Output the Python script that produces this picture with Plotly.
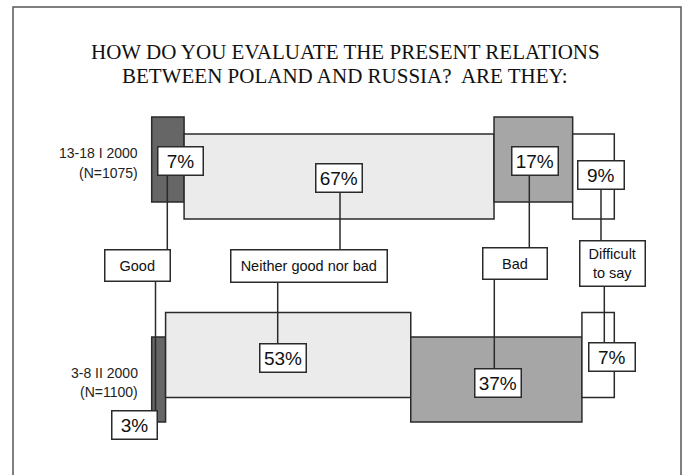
import plotly.graph_objects as go

# ---------------- data ----------------
periods = ["13-18 I 2000", "3-8 II 2000"]
samples = ["(N=1075)", "(N=1100)"]
answers = ["Good", "Neither good nor bad", "Bad", "Difficult<br>to say"]
good = [7, 3]
neither = [67, 53]
bad = [17, 37]
difficult = [9, 7]
title_lines = ["HOW DO YOU EVALUATE THE PRESENT RELATIONS",
               "BETWEEN POLAND AND RUSSIA?\u00a0 ARE THEY:"]

# ---------------- layout constants ----------------
W, H = 685, 475
X0_PX, PX_PER_PCT = 151.7, 4.626          # x axis: percent -> pixels
def xd(px):
    return (px - X0_PX) / PX_PER_PCT

colors = ["#666666", "#ebebeb", "#a6a6a6", "#ffffff"]
EDGE = "#2a2a2a"
BAR_H = 85
y_raised = [159.5, 379.5]    # centres of Good / Bad segments per row
y_base = [176.5, 355.0]      # centres of Neither / Difficult segments per row

series = [good, neither, bad, difficult]
ypos = [y_raised, y_base, y_raised, y_base]

fig = go.Figure()
cum = [0, 0]
for vals, ys, col, name in zip(series, ypos, colors, answers):
    fig.add_trace(go.Bar(
        orientation="h", x=vals, base=list(cum), y=ys, width=BAR_H,
        marker=dict(color=col, line=dict(color=EDGE, width=1.5)),
        name=name, hoverinfo="skip", showlegend=False))
    cum = [c + v for c, v in zip(cum, vals)]

# ---------------- callout boxes (pixel positions converted to axes) --------
pct_font = dict(family="Liberation Sans, Arial", size=19, color="#111")
lab_font = dict(family="Liberation Sans, Arial", size=14.5, color="#111")

def box(text, cx, cy, w, h, font):
    fig.add_annotation(x=xd(cx), y=cy, xref="x", yref="y", text=text,
                       showarrow=False, xanchor="center", yanchor="middle",
                       width=w - 3, height=h - 3, borderpad=0,
                       bgcolor="white", bordercolor=EDGE, borderwidth=1.5,
                       font=font, align="center", valign="middle")

def line(x0, y0, x1, y1):
    fig.add_shape(type="line", x0=xd(x0), x1=xd(x1), y0=y0, y1=y1,
                  xref="x", yref="y", layer="above",
                  line=dict(color=EDGE, width=1.5))

# connector lines
line(167.3, 176, 167.3, 249)
line(155.5, 282, 155.5, 411)
line(340.0, 193, 340.0, 249)
line(277.7, 283, 277.7, 343)
line(529.3, 175, 529.3, 247)
line(494.3, 280, 494.3, 368)
line(601.0, 189, 601.0, 240)
line(604.3, 287, 604.3, 342)

# percentage boxes, top row
box(f"{good[0]}%", 180.8, 161.0, 47, 30, pct_font)
box(f"{neither[0]}%", 339.0, 178.3, 47.5, 30, pct_font)
box(f"{bad[0]}%", 534.5, 160.5, 47.5, 30, pct_font)
box(f"{difficult[0]}%", 600.7, 174.5, 47.5, 30, pct_font)
# answer boxes
box(answers[0], 137.5, 265.3, 66.5, 33, lab_font)
box(answers[1], 308.7, 265.8, 157.5, 34, lab_font)
box(answers[2], 515.3, 263.7, 66, 33, lab_font)
box(answers[3], 612.2, 263.3, 66.5, 47, lab_font)
# percentage boxes, bottom row
box(f"{good[1]}%", 134.2, 425.3, 47, 30, pct_font)
box(f"{neither[1]}%", 282.7, 357.5, 48, 30, pct_font)
box(f"{bad[1]}%", 497.8, 383.2, 47.5, 30, pct_font)
box(f"{difficult[1]}%", 612.2, 356.8, 47.5, 30, pct_font)

# row labels
row_font = dict(family="Liberation Sans, Arial", size=14, color="#222")
for i, (yc1, yc2) in enumerate([(153.0, 172.7), (373.3, 391.7)]):
    fig.add_annotation(x=xd(140), y=yc1, xref="x", yref="y", text=periods[i],
                       showarrow=False, xanchor="right", yanchor="middle", font=row_font)
    fig.add_annotation(x=xd(140), y=yc2, xref="x", yref="y", text=samples[i],
                       showarrow=False, xanchor="right", yanchor="middle", font=row_font)

# title
title_font = dict(family="Liberation Serif, Times New Roman", size=21, color="#111")
for t, yc in zip(title_lines, [52.0, 75.5]):
    fig.add_annotation(x=xd(345), y=yc, xref="x", yref="y", text=t, showarrow=False,
                       xanchor="center", yanchor="middle", font=title_font)

# frame
fig.add_shape(type="rect", xref="paper", yref="paper",
              x0=13 / W, x1=681 / W, y0=-0.05, y1=1 - 7 / H,
              line=dict(color="#555", width=1.5), fillcolor="rgba(0,0,0,0)")

fig.update_layout(
    width=W, height=H, margin=dict(l=0, r=0, t=0, b=0),
    paper_bgcolor="white", plot_bgcolor="white", barmode="overlay",
    xaxis=dict(range=[xd(0), xd(W)], visible=False, fixedrange=True),
    yaxis=dict(range=[H, 0], visible=False, fixedrange=True),
)
fig.write_html("out.html")
